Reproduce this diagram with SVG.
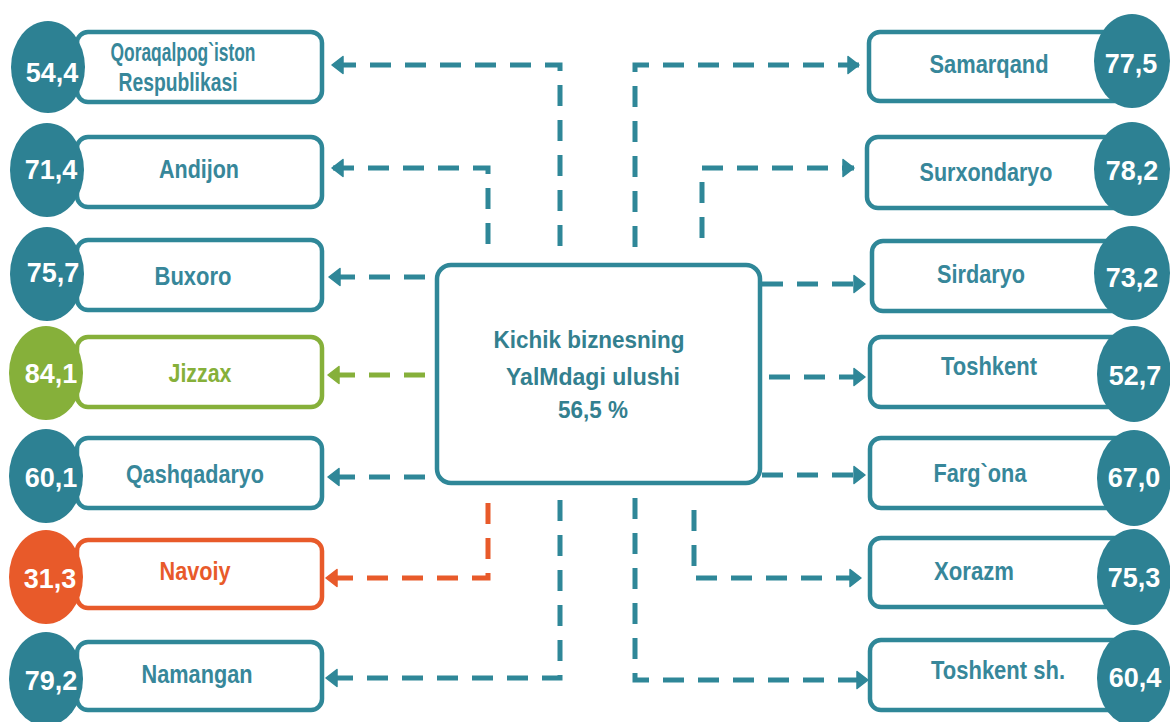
<svg xmlns="http://www.w3.org/2000/svg" width="1170" height="722" viewBox="0 0 1170 722">
<style>
.box{fill:#fff;stroke:#2f8798;stroke-width:4.5}
.boxg{fill:#fff;stroke:#86b03a;stroke-width:4.5}
.boxo{fill:#fff;stroke:#e85a2a;stroke-width:4.5}
.circ{fill:#2d8193}
.circg{fill:#86b03a}
.circo{fill:#e85a2a}
.lbl{font-family:"Liberation Sans",Arial,sans-serif;font-weight:bold;font-size:26px;fill:#37879a;text-anchor:middle}
.lblg{fill:#86b03a}
.lblo{fill:#e85a2a}
.num{font-family:"Liberation Sans",Arial,sans-serif;font-weight:bold;font-size:27px;fill:#fff;text-anchor:middle}
.ctr{font-family:"Liberation Sans",Arial,sans-serif;font-weight:bold;font-size:24px;fill:#33808f;text-anchor:middle}
.con{fill:none;stroke:#2f8798;stroke-width:5;stroke-dasharray:21 14}
.cong{fill:none;stroke:#86b03a;stroke-width:5;stroke-dasharray:21 14}
.cono{fill:none;stroke:#e85a2a;stroke-width:5;stroke-dasharray:21 14}
</style>
<defs>
<marker id="ah" markerUnits="userSpaceOnUse" markerWidth="14" markerHeight="20" viewBox="0 -10 13 20" refX="12" refY="0" orient="auto"><path d="M1,-8.5 L12,0 L1,8.5 Z" fill="#2f8798" stroke="#2f8798" stroke-width="1.5" stroke-linejoin="round"/></marker>
<marker id="ahg" markerUnits="userSpaceOnUse" markerWidth="14" markerHeight="20" viewBox="0 -10 13 20" refX="12" refY="0" orient="auto"><path d="M1,-8.5 L12,0 L1,8.5 Z" fill="#86b03a" stroke="#86b03a" stroke-width="1.5" stroke-linejoin="round"/></marker>
<marker id="aho" markerUnits="userSpaceOnUse" markerWidth="14" markerHeight="20" viewBox="0 -10 13 20" refX="12" refY="0" orient="auto"><path d="M1,-8.5 L12,0 L1,8.5 Z" fill="#e85a2a" stroke="#e85a2a" stroke-width="1.5" stroke-linejoin="round"/></marker>
</defs>
<rect width="1170" height="722" fill="#fff"/>
<g id="connectors">
<path class="con" d="M560,246 V65 H332" marker-end="url(#ah)"/>
<path class="con" d="M488,244 V168 H332" marker-end="url(#ah)"/>
<path class="con" d="M425,277 H329" marker-end="url(#ah)"/>
<path class="cong" d="M425,375 H328" marker-end="url(#ahg)"/>
<path class="con" d="M425,477 H328" marker-end="url(#ah)"/>
<path class="cono" d="M488,503 V578 H326" marker-end="url(#aho)"/>
<path class="con" d="M560,500 V678 H326" marker-end="url(#ah)"/>
<path class="con" d="M635,247 V65 H859" marker-end="url(#ah)"/>
<path class="con" d="M702,238 V168 H854" marker-end="url(#ah)"/>
<path class="con" d="M762,284 H865" marker-end="url(#ah)"/>
<path class="con" d="M769,377 H865" marker-end="url(#ah)"/>
<path class="con" d="M762,475 H865" marker-end="url(#ah)"/>
<path class="con" d="M694,510 V578 H861" marker-end="url(#ah)"/>
<path class="con" d="M635,498 V680 H868" marker-end="url(#ah)"/>
</g>
<g id="center">
<rect class="box" x="437" y="265" width="323" height="218" rx="14" stroke-width="5"/>
<text class="ctr" x="589" y="348" textLength="191" lengthAdjust="spacingAndGlyphs">Kichik biznesning</text>
<text class="ctr" x="593" y="385" textLength="174" lengthAdjust="spacingAndGlyphs">YalMdagi ulushi</text>
<text class="ctr" x="593" y="418" textLength="70" lengthAdjust="spacingAndGlyphs">56,5 %</text>
</g>
<g id="n-qoraqalpogiston">
<rect class="box" x="77" y="32" width="245" height="70" rx="11"/>
<ellipse class="circ" cx="48" cy="67" rx="37" ry="46"/>
<text class="num" x="52" y="82">54,4</text>
<text class="lbl" x="183" y="61" font-size="22" textLength="145" lengthAdjust="spacingAndGlyphs">Qoraqalpog`iston</text>
<text class="lbl" x="178" y="91" font-size="22" textLength="119" lengthAdjust="spacingAndGlyphs">Respublikasi</text>
</g>
<g id="n-andijon">
<rect class="box" x="77" y="137" width="245" height="70" rx="11"/>
<ellipse class="circ" cx="47" cy="170" rx="37" ry="47"/>
<text class="num" x="51" y="179">71,4</text>
<text class="lbl" x="199" y="178" textLength="80" lengthAdjust="spacingAndGlyphs">Andijon</text>
</g>
<g id="n-buxoro">
<rect class="box" x="77" y="240" width="245" height="70" rx="11"/>
<ellipse class="circ" cx="47" cy="274" rx="37" ry="47"/>
<text class="num" x="53" y="282">75,7</text>
<text class="lbl" x="193" y="285" textLength="77" lengthAdjust="spacingAndGlyphs">Buxoro</text>
</g>
<g id="n-jizzax">
<rect class="boxg" x="77" y="337" width="245" height="70" rx="11"/>
<ellipse class="circg" cx="46" cy="373" rx="37" ry="47"/>
<text class="num" x="51" y="383">84,1</text>
<text class="lbl lblg" x="200" y="382" textLength="63" lengthAdjust="spacingAndGlyphs">Jizzax</text>
</g>
<g id="n-qashqadaryo">
<rect class="box" x="77" y="438" width="245" height="70" rx="11"/>
<ellipse class="circ" cx="46" cy="476" rx="37" ry="47"/>
<text class="num" x="51" y="487">60,1</text>
<text class="lbl" x="195" y="483" textLength="138" lengthAdjust="spacingAndGlyphs">Qashqadaryo</text>
</g>
<g id="n-navoiy">
<rect class="boxo" x="77" y="540" width="245" height="68" rx="11"/>
<ellipse class="circo" cx="46" cy="577" rx="37" ry="47"/>
<text class="num" x="50" y="588">31,3</text>
<text class="lbl lblo" x="195" y="580" textLength="71" lengthAdjust="spacingAndGlyphs">Navoiy</text>
</g>
<g id="n-namangan">
<rect class="box" x="77" y="642" width="245" height="68" rx="11"/>
<ellipse class="circ" cx="46" cy="679" rx="37" ry="47"/>
<text class="num" x="51" y="690">79,2</text>
<text class="lbl" x="197" y="683" textLength="111" lengthAdjust="spacingAndGlyphs">Namangan</text>
</g>
<g id="n-samarqand">
<rect class="box" x="869" y="32" width="262" height="69" rx="11"/>
<ellipse class="circ" cx="1132" cy="61" rx="38" ry="47"/>
<text class="num" x="1131" y="73">77,5</text>
<text class="lbl" x="989" y="73" textLength="119" lengthAdjust="spacingAndGlyphs">Samarqand</text>
</g>
<g id="n-surxondaryo">
<rect class="box" x="867" y="137" width="264" height="71" rx="11"/>
<ellipse class="circ" cx="1132" cy="169" rx="38" ry="47"/>
<text class="num" x="1132" y="180">78,2</text>
<text class="lbl" x="986" y="181" textLength="133" lengthAdjust="spacingAndGlyphs">Surxondaryo</text>
</g>
<g id="n-sirdaryo">
<rect class="box" x="872" y="241" width="259" height="70" rx="11"/>
<ellipse class="circ" cx="1132" cy="273" rx="38" ry="47"/>
<text class="num" x="1132" y="287">73,2</text>
<text class="lbl" x="981" y="283" textLength="88" lengthAdjust="spacingAndGlyphs">Sirdaryo</text>
</g>
<g id="n-toshkent">
<rect class="box" x="870" y="337" width="262" height="70" rx="11"/>
<ellipse class="circ" cx="1134" cy="374" rx="37" ry="48"/>
<text class="num" x="1135" y="385">52,7</text>
<text class="lbl" x="989" y="375" textLength="96" lengthAdjust="spacingAndGlyphs">Toshkent</text>
</g>
<g id="n-fargona">
<rect class="box" x="870" y="438" width="262" height="70" rx="11"/>
<ellipse class="circ" cx="1134" cy="478" rx="37" ry="48"/>
<text class="num" x="1134" y="487">67,0</text>
<text class="lbl" x="980" y="482" textLength="93" lengthAdjust="spacingAndGlyphs">Farg`ona</text>
</g>
<g id="n-xorazm">
<rect class="box" x="870" y="538" width="262" height="69" rx="11"/>
<ellipse class="circ" cx="1134" cy="577" rx="37" ry="48"/>
<text class="num" x="1134" y="587">75,3</text>
<text class="lbl" x="974" y="580" textLength="80" lengthAdjust="spacingAndGlyphs">Xorazm</text>
</g>
<g id="n-toshkent-sh">
<rect class="box" x="870" y="640" width="262" height="70" rx="11"/>
<ellipse class="circ" cx="1134" cy="678" rx="37" ry="48"/>
<text class="num" x="1135" y="687">60,4</text>
<text class="lbl" x="998" y="679" textLength="134" lengthAdjust="spacingAndGlyphs">Toshkent sh.</text>
</g>
</svg>
